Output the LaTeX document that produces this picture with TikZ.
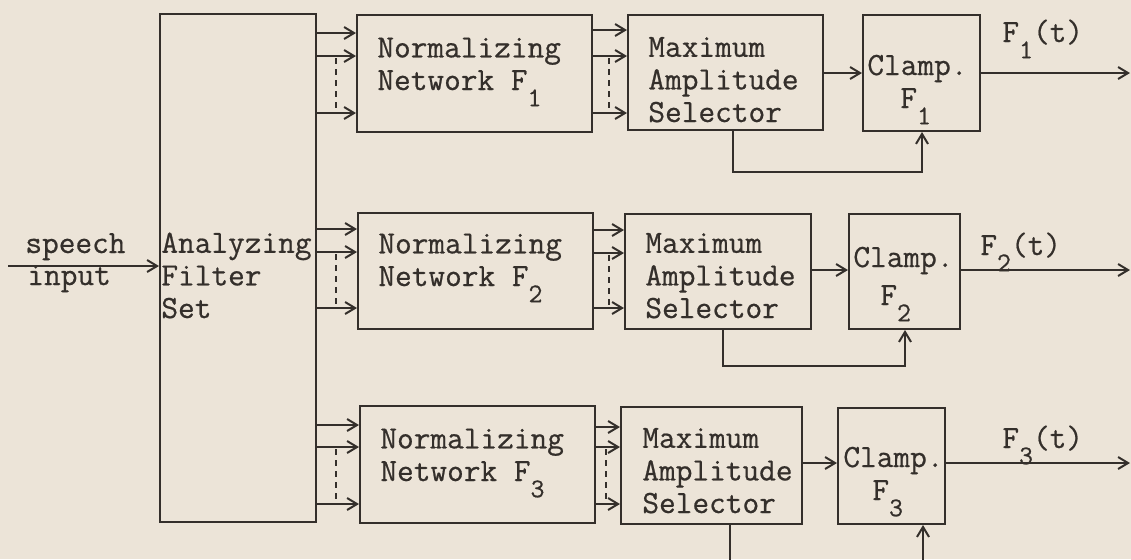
\documentclass[tikz,border=0pt]{standalone}
\usepackage{fontspec}
\newfontfamily\tw{Latin Modern Mono}[FakeBold=0.6]
\usetikzlibrary{arrows.meta,fit}
\definecolor{paper}{RGB}{236,228,216}
\definecolor{ink}{RGB}{52,47,43}
\newcommand\subs[1]{\raisebox{-0.5em}{\fontsize{13.5}{13.5}\selectfont #1}}
\begin{document}
\begin{tikzpicture}[x=0.5pt,y=-0.5pt,
 box/.style={draw=ink,line width=1pt,inner sep=0pt},
 lbl/.style={inner sep=0pt,anchor=base west,text=ink,font=\tw\fontsize{16.2}{16.3}\selectfont,align=left},
 wire/.style={draw=ink,line width=1pt},
 arr/.style={wire,-{Straight Barb[length=5pt,width=6pt]}},
 dots/.style={draw=ink,line width=0.8pt,dash pattern=on 3pt off 2.5pt}]
\fill[paper] (0,0) rectangle (1131,559);
\useasboundingbox (0,0) rectangle (1131,559);
% boxes
\node[box,fit={(160,14)(316,522)}] (filt) {};
\node[box,fit={(357,15)(592,132)}] (norm1) {};
\node[box,fit={(358,213)(593,329)}] (norm2) {};
\node[box,fit={(360,406)(595,523)}] (norm3) {};
\node[box,fit={(628,15)(823,130)}] (max1) {};
\node[box,fit={(625,214)(811,329)}] (max2) {};
\node[box,fit={(621,407)(802,524)}] (max3) {};
\node[box,fit={(863,15)(980,131)}] (clamp1) {};
\node[box,fit={(849,214)(960,329)}] (clamp2) {};
\node[box,fit={(838,408)(945,524)}] (clamp3) {};
% texts (anchor = baseline of the last line)
\node[lbl] (tsp) at (25,253) {speech};
\node[lbl] (tin) at (27,285) {input};
\node[lbl] (tfilt) at (161,318) {Analyzing\\Filter\\Set};
\node[lbl] (tn1) at (377,90) {Normalizing\\Network F\subs{1}};
\node[lbl] (tn2) at (378,286) {Normalizing\\Network F\subs{2}};
\node[lbl] (tn3) at (380,481) {Normalizing\\Network F\subs{3}};
\node[lbl] (tm1) at (648,122) {Maximum\\Amplitude\\Selector};
\node[lbl] (tm2) at (645,318) {Maximum\\Amplitude\\Selector};
\node[lbl] (tm3) at (642,513) {Maximum\\Amplitude\\Selector};
\node[lbl] (tc1) at (867,75) {Clamp.};
\node[lbl] (tf1) at (900,108) {F\subs{1}};
\node[lbl] (tc2) at (853,267) {Clamp.};
\node[lbl] (tf2) at (880,305) {F\subs{2}};
\node[lbl] (tc3) at (843,467) {Clamp.};
\node[lbl] (tf3) at (872,500) {F\subs{3}};
\node[lbl] (to1) at (1002,42) {F\subs{1}(t)};
\node[lbl] (to2) at (980,255) {F\subs{2}(t)};
\node[lbl] (to3) at (1002,448) {F\subs{3}(t)};
% speech input
\coordinate (sp) at (8,266);
\draw[arr] (sp) -- (filt.west |- sp);
% filter -> normalizing
\foreach \n/\a/\b/\c in {1/33/56/113, 2/229/252/308, 3/425/447/504}{
  \draw[arr] (filt.east |- 0,\a) -- (norm\n.west |- 0,\a);
  \draw[arr] (filt.east |- 0,\b) -- (norm\n.west |- 0,\b);
  \draw[arr] (filt.east |- 0,\c) -- (norm\n.west |- 0,\c);
  \draw[dots] (336,\b+2) -- (336,\c);
}
% normalizing -> maximum
\foreach \n/\a/\b/\c/\d in {1/30/56/113/609, 2/230/253/308/609, 3/427/447/504/606}{
  \draw[arr] (norm\n.east |- 0,\a) -- (max\n.west |- 0,\a);
  \draw[arr] (norm\n.east |- 0,\b) -- (max\n.west |- 0,\b);
  \draw[arr] (norm\n.east |- 0,\c) -- (max\n.west |- 0,\c);
  \draw[dots] (\d,\b+2) -- (\d,\c);
}
% maximum -> clamp, clamp -> output
\foreach \n/\y in {1/73, 2/270, 3/463}{
  \draw[arr] (max\n.east |- 0,\y) -- (clamp\n.west |- 0,\y);
  \coordinate (o\n) at (1130,\y);
  \draw[arr] (clamp\n.east |- o\n) -- (o\n);
}
% feedback
\coordinate (fa1) at (733,172); \coordinate (fb1) at (922,172);
\draw[arr] (max1.south -| fa1) -- (fa1) -- (fb1) -- (clamp1.south -| fb1);
\coordinate (fa2) at (723,366); \coordinate (fb2) at (905,366);
\draw[arr] (max2.south -| fa2) -- (fa2) -- (fb2) -- (clamp2.south -| fb2);
\coordinate (fa3) at (730,560); \coordinate (fb3) at (923,560);
\draw[wire] (max3.south -| fa3) -- (fa3);
\draw[arr] (fb3) -- (clamp3.south -| fb3);
\end{tikzpicture}
\end{document}
